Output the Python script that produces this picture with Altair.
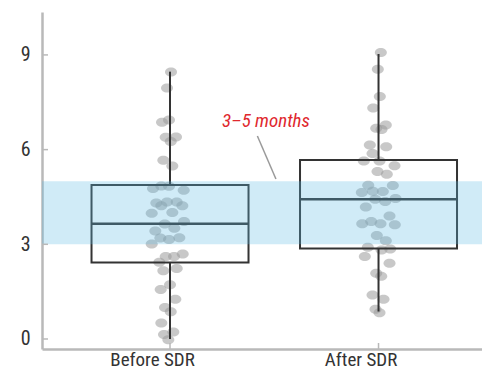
import altair as alt
import pandas as pd

# ---------------- data ----------------
categories = ["Before SDR", "After SDR"]
cat_pos = [1, 2]

before_vals = [8.46, 7.95, 6.87, 6.94, 6.39, 6.40, 6.26, 5.66, 5.48, 4.77, 4.85, 4.84,
               4.71, 4.31, 4.22, 4.34, 4.34, 4.22, 3.98, 4.01, 3.64, 3.51, 3.72, 3.42,
               3.20, 3.15, 3.21, 3.01, 2.61, 2.61, 2.69, 2.43, 2.16, 2.23, 1.72, 1.57,
               1.26, 1.00, 0.86, 0.51, 0.22, 0.14, -0.02]
before_jitter = [1, -3, -8, -1, -4.3, 6, 0.7, -6.7, 2.3, -17, -8.7, -1,
                 13.7, -13.7, -8.7, -3, 6.7, 12.3, -18.3, 2.3, -5.3, 4.3, 14, -14.7,
                 -9.7, -1, 9.3, -18.3, -4.3, 4, 12.7, -10.7, -6.7, 6.7, 0, -9.3,
                 5.3, -5, 0.7, -8.7, 3.3, -6, -1.7]

after_vals = [9.08, 8.55, 7.68, 7.32, 6.68, 6.78, 6.64, 6.15, 6.09, 5.88, 5.64, 5.64,
              5.49, 5.31, 5.22, 4.87, 4.86, 4.64, 4.68, 4.67, 4.43, 4.36, 4.45, 4.18,
              3.90, 3.65, 3.72, 3.65, 3.62, 3.28, 3.11, 2.91, 2.82, 2.85, 2.61, 2.40,
              2.08, 1.99, 1.39, 1.26, 0.94, 0.83]
after_jitter = [2.3, -0.7, 1.3, -5.3, -2.3, 7.3, 3, -8.7, 7.7, -6, -14.7, 1,
                16, -1, 8.3, -10.3, 14.3, -16.7, -5.7, 4.3, -3.3, 6.7, 17, -12.7,
                11, -16.3, -7.3, 2, 16.3, -1.7, 7.3, -10.7, 3, 11.7, -13.7, 11,
                -2.3, 2.7, -6, 5, -3, 1]

q1 = [2.42, 2.87]
median = [3.65, 4.43]
q3 = [4.88, 5.67]
whisker_lo = [0.0, 0.87]
whisker_hi = [8.47, 9.03]

band_lo, band_hi = 3, 5
y_ticks = [0, 3, 6, 9]

note_text = "3–5 months"
note_pos = [1.46, 6.72]
leader_from = [1.419, 6.43]
leader_to = [1.508, 5.07]

# ---------------- layout constants ----------------
W, H = 440, 337
PX_PER_UNIT = 208.5
X_DOMAIN = [0.386, 0.386 + W / PX_PER_UNIT]
Y_DOMAIN = [-0.317, 10.36]
BOX_HALF = 78.5 / PX_PER_UNIT

FONT = ("Liberation Sans Narrow, Arial Narrow, Roboto Condensed, Noto Sans Condensed, "
        "Open Sans Condensed, Liberation Sans, Arial, sans-serif")
INK = "#333333"
AXIS_GRAY = "#b9b9b9"

pts = pd.DataFrame({
    "x": [cat_pos[0] + j / PX_PER_UNIT for j in before_jitter]
         + [cat_pos[1] + j / PX_PER_UNIT for j in after_jitter],
    "y": before_vals + after_vals,
})
stats = pd.DataFrame({"cat": cat_pos, "q1": q1, "med": median, "q3": q3,
                      "lo": whisker_lo, "hi": whisker_hi})
band_df = pd.DataFrame({"x0": [X_DOMAIN[0]], "x1": [X_DOMAIN[1]],
                        "y0": [band_lo], "y1": [band_hi]})
note_df = pd.DataFrame({"x": [note_pos[0]], "y": [note_pos[1]], "t": [note_text]})
leader_df = pd.DataFrame({"x": [leader_from[0]], "y": [leader_from[1]],
                          "x2": [leader_to[0]], "y2": [leader_to[1]]})
ytick_df = pd.DataFrame({"v": y_ticks})
xtick_df = pd.DataFrame({"v": cat_pos})

label_expr = "datum.value == 1 ? '%s' : (datum.value == 2 ? '%s' : '')" % tuple(categories)

xscale = alt.Scale(domain=X_DOMAIN, nice=False, zero=False)
yscale = alt.Scale(domain=Y_DOMAIN, nice=False, zero=False)

x_axis = alt.Axis(values=cat_pos, labelExpr=label_expr, title=None, grid=False,
                  ticks=False, domainColor=AXIS_GRAY, domainWidth=2.5,
                  labelFont=FONT, labelFontSize=19, labelColor=INK,
                  labelBaseline="alphabetic", labelPadding=16, labelOffset=-18)
y_axis = alt.Axis(values=y_ticks, title=None, grid=False, ticks=False,
                  domainColor=AXIS_GRAY, domainWidth=2.5,
                  labelFont=FONT, labelFontSize=20, labelColor=INK, labelPadding=12)

points = alt.Chart(pts).mark_point(
    shape="M-1,0A1,0.75 0 1,0 1,0A1,0.75 0 1,0 -1,0Z",
    filled=True, size=144, color="#9a9a9a", opacity=0.55, strokeWidth=0
).encode(
    x=alt.X("x:Q", scale=xscale, axis=x_axis),
    y=alt.Y("y:Q", scale=yscale, axis=y_axis),
)

base = alt.Chart(stats).transform_calculate(
    xl=f"datum.cat - {BOX_HALF}", xr=f"datum.cat + {BOX_HALF}"
)
box = base.mark_rect(fillOpacity=0, stroke=INK, strokeWidth=2).encode(
    x=alt.X("xl:Q", scale=xscale), x2="xr:Q",
    y=alt.Y("q1:Q", scale=yscale), y2="q3:Q",
)
med_rule = base.mark_rule(color=INK, strokeWidth=2.5).encode(
    x=alt.X("xl:Q", scale=xscale), x2="xr:Q",
    y=alt.Y("med:Q", scale=yscale),
)
whisk_hi = base.mark_rule(color=INK, strokeWidth=2).encode(
    x=alt.X("cat:Q", scale=xscale),
    y=alt.Y("q3:Q", scale=yscale), y2="hi:Q",
)
whisk_lo = base.mark_rule(color=INK, strokeWidth=2).encode(
    x=alt.X("cat:Q", scale=xscale),
    y=alt.Y("lo:Q", scale=yscale), y2="q1:Q",
)

band = alt.Chart(band_df).mark_rect(color="#5dbae4", opacity=0.29).encode(
    x=alt.X("x0:Q", scale=xscale), x2="x1:Q",
    y=alt.Y("y0:Q", scale=yscale), y2="y1:Q",
)

yticks = alt.Chart(ytick_df).mark_rule(color=AXIS_GRAY, strokeWidth=1.5).encode(
    y=alt.Y("v:Q", scale=yscale), x=alt.value(0), x2=alt.value(6),
)
xticks = alt.Chart(xtick_df).mark_rule(color=AXIS_GRAY, strokeWidth=1.5).encode(
    x=alt.X("v:Q", scale=xscale), y=alt.value(H - 6), y2=alt.value(H),
)

leader = alt.Chart(leader_df).mark_rule(color="#9a9a9a", strokeWidth=1.5).encode(
    x=alt.X("x:Q", scale=xscale), x2="x2:Q",
    y=alt.Y("y:Q", scale=yscale), y2="y2:Q",
)
note = alt.Chart(note_df).mark_text(
    font=FONT, fontSize=19, fontStyle="italic", color="#e0282e",
    align="center", baseline="alphabetic"
).encode(
    x=alt.X("x:Q", scale=xscale), y=alt.Y("y:Q", scale=yscale), text="t:N",
)

chart = alt.layer(
    points, box, med_rule, whisk_hi, whisk_lo, band, yticks, xticks, leader, note
).properties(
    width=W, height=H,
    autosize=alt.AutoSizeParams(type="none"),
    padding={"left": 34, "top": 4, "right": 0, "bottom": 22},
).configure_view(stroke=None).configure_axis(domainCap="butt")

chart.save("out.html", embed_options={"renderer": "svg", "actions": False})
